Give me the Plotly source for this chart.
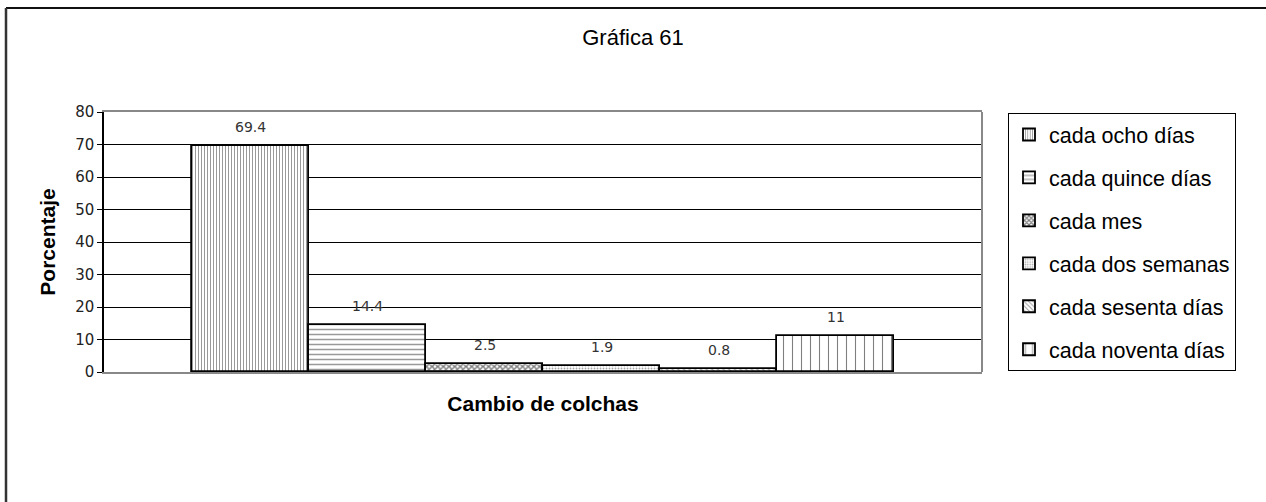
import plotly.graph_objects as go

# datos de la grafica
titulo = 'Gráfica 61'
series = ['cada ocho días', 'cada quince días', 'cada mes', 'cada dos semanas',
          'cada sesenta días', 'cada noventa días']
valores = [69.4, 14.4, 2.5, 1.9, 0.8, 11]
ticks_y = [0, 10, 20, 30, 40, 50, 60, 70, 80]

# patrones de relleno parecidos a los de Excel
patrones = [
    dict(shape='|', size=3, solidity=0.35, fgcolor='#333333'),
    dict(shape='-', size=5, solidity=0.3, fgcolor='#333333'),
    dict(shape='x', size=4, solidity=0.6, fgcolor='#000000'),
    dict(shape='.', size=3, solidity=0.3, fgcolor='#555555'),
    dict(shape='\\', size=4, solidity=0.3, fgcolor='#333333'),
    dict(shape='|', size=9, solidity=0.12, fgcolor='#000000'),
]

fig = go.Figure()
for i, (nombre, v) in enumerate(zip(series, valores)):
    fig.add_trace(go.Bar(
        x=[nombre], y=[v], name=nombre, legendgroup=nombre,
        marker=dict(color='white', line=dict(color='black', width=1.8), pattern=patrones[i]),
        width=1,
    ))
    # etiqueta del valor sobre la barra
    fig.add_annotation(x=nombre, y=v, text=str(v), showarrow=False, yshift=19,
                       font=dict(family='DejaVu Sans', size=14, color='#333333'))

W, H = 1266, 502
L, R, T, B = 104, 284, 112, 130
pw, ph = W - L - R, H - T - B

def px(x):
    return (x - L) / pw

def py(y):
    return (H - B - y) / ph

# marco exterior (solo arriba e izquierda visibles)
fig.add_shape(type='line', xref='paper', yref='paper', x0=px(6), x1=px(1270), y0=py(8), y1=py(8),
              line=dict(color='#111111', width=2))
fig.add_shape(type='line', xref='paper', yref='paper', x0=px(6), x1=px(6), y0=py(8), y1=py(505),
              line=dict(color='#333333', width=2.5))
# borde derecho del area de trazado en gris
fig.add_shape(type='line', xref='paper', yref='paper', x0=1, x1=1, y0=0, y1=1,
              line=dict(color='#888888', width=2))

fig.update_layout(
    width=W, height=H,
    margin=dict(l=L, r=R, t=T, b=B),
    paper_bgcolor='white', plot_bgcolor='white',
    barmode='overlay', bargap=0,
    font=dict(family='Liberation Sans', color='black'),
    title=dict(text=titulo, x=0.5, xref='container', y=1 - 37 / H, yanchor='middle',
               font=dict(family='Liberation Sans', size=22, color='black')),
    showlegend=True,
    legend=dict(x=px(1008), xanchor='left', y=py(113), yanchor='top',
                bordercolor='black', borderwidth=1, tracegroupgap=12, maxheight=450,
                font=dict(family='Liberation Sans', size=21.5, color='black'),
                itemclick=False),
)
fig.update_xaxes(
    type='category', range=[-1.252, 6.252], showticklabels=False, ticks='',
    showgrid=False, zeroline=False,
    showline=True, linecolor='#888888', linewidth=2, mirror=True,
    title=dict(text='Cambio de colchas', standoff=23,
               font=dict(family='Liberation Sans', size=21, color='black', weight='bold')),
)
fig.update_yaxes(
    range=[0, 80], tickvals=ticks_y, ticks='outside', ticklen=5, tickcolor='black',
    showgrid=True, gridcolor='black', gridwidth=1, zeroline=False,
    showline=True, linecolor='black', linewidth=1.5,
    tickfont=dict(family='DejaVu Sans', size=15, color='#222222'),
    title=dict(text='Porcentaje', standoff=14,
               font=dict(family='Liberation Sans', size=21, color='black', weight='bold')),
)

# quitar el margen del body para que la figura empiece en (0,0)
fig.write_html('out.html', config={'displayModeBar': False},
               post_script="document.body.style.margin='0';")
